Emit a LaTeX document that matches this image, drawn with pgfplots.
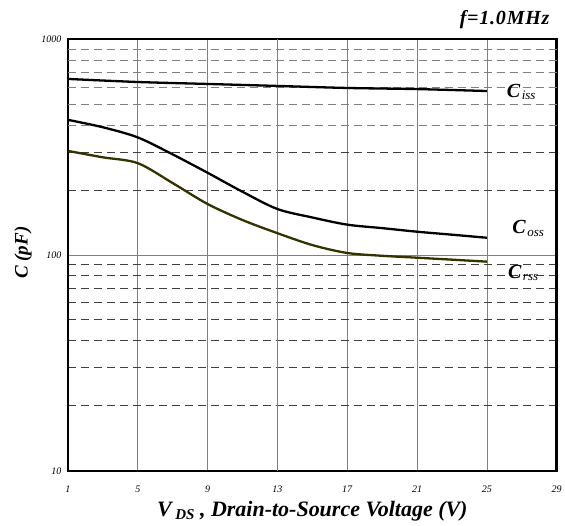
\documentclass[border=0pt]{standalone}
\usepackage{pgfplots}
\pgfplotsset{compat=1.18}
\usetikzlibrary{calc}
\usepackage{fontspec}
\setmainfont{Liberation Serif}
\definecolor{rssolive}{RGB}{51,51,0}
\newcommand{\capC}[1]{{\fontsize{20}{22}\selectfont\bfseries\itshape C}\,{\fontsize{13}{14}\selectfont\itshape\raisebox{-2.5pt}{#1}}}
\begin{document}
\begin{tikzpicture}
\begin{axis}[
    scale only axis,
    width=489pt, height=432pt,
    xmin=1, xmax=29,
    ymode=log, ymin=10, ymax=1000,
    xtick={1,5,9,13,17,21,25,29},
    xticklabels={1,5,9,13,17,21,25,29},
    ytick={10,100,1000},
    yticklabels={10,100,1000},
    extra x ticks={13},
    extra x tick labels={},
    extra x tick style={grid style={black, line width=1.1pt}},
    extra y ticks={400,500,600,700,800,900},
    extra y tick labels={},
    extra y tick style={grid style={gray!85, line width=0.7pt, dash pattern=on 8pt off 5pt}},
    major tick length=0pt, minor tick length=0pt,
    tick label style={font=\fontsize{10}{11}\selectfont\itshape},
    xticklabel style={yshift=-12pt},
    yticklabel style={xshift=-3pt},
    xmajorgrids=true, ymajorgrids=true, yminorgrids=true,
    major grid style={gray, line width=0.7pt},
    minor grid style={black!75, line width=0.7pt, dash pattern=on 8pt off 5pt},
    axis line style={line width=2.4pt},
    xlabel={\fontsize{22}{24}\selectfont\bfseries\itshape V\,{\fontsize{15}{16}\selectfont\raisebox{-3pt}{DS}} , Drain-to-Source Voltage (V)},
    ylabel={\fontsize{19}{21}\selectfont\bfseries\itshape C (pF)},
    xlabel style={at={($(rel axis cs:0.5,0)+(0pt,-41pt)$)}, anchor=center},
    ylabel style={at={($(rel axis cs:0,0.505)+(-45pt,0pt)$)}, anchor=center},
    clip=false,
]
% C_iss
\addplot[black, line width=2.3pt, smooth] coordinates {
    (1,653) (5,632) (9,619) (13,606) (17,593) (21,586) (25,574)
};
% C_oss
\addplot[black, line width=2.3pt, smooth] coordinates {
    (1,422) (3,390) (5,350) (7,292) (9,240) (11,196) (13,163)
    (15,149) (17,138) (19,133) (21,128) (23,124) (25,120)
};
% C_rss
\addplot[rssolive, line width=2.3pt, smooth] coordinates {
    (1,303) (3,283) (5,266) (7,215) (9,172) (11,145) (13,126)
    (15,111) (17,102) (19,99) (21,97) (23,95) (25,93)
};
\node[anchor=base west, inner sep=0pt] at (axis cs:26.13,538) {\capC{iss}};
\node[anchor=base west, inner sep=0pt] at (axis cs:26.45,125) {\capC{oss}};
\node[anchor=base west, inner sep=0pt] at (axis cs:26.2,78) {\capC{rss}};
\node[anchor=base east, inner sep=0pt, font=\fontsize{20}{22}\selectfont\bfseries\itshape\addfontfeatures{LetterSpace=4}]
    at ($(rel axis cs:1,1)+(-7pt,14pt)$) {f=1.0MHz};
% page margins as in the reference
\path ($(rel axis cs:0,0)+(-68pt,-54pt)$) ($(rel axis cs:1,1)+(8pt,39pt)$);
\end{axis}
\end{tikzpicture}
\end{document}
